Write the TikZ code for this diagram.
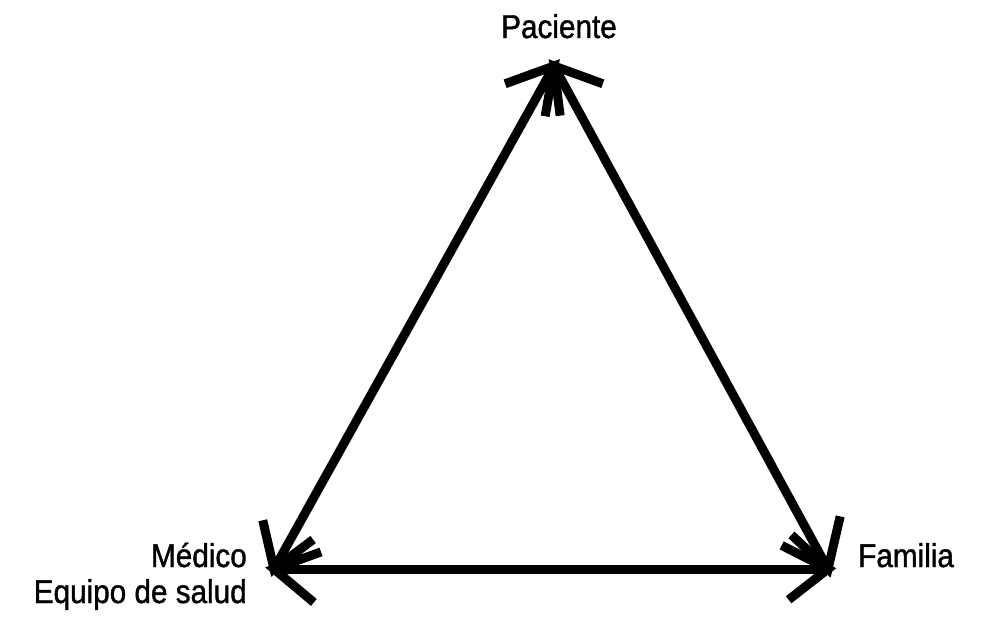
\documentclass[tikz,border=0pt]{standalone}
\usepackage{fontspec}
\setmainfont[FakeStretch=0.9,FakeBold=1.2]{Liberation Sans}
\begin{document}
\begin{tikzpicture}[x=1pt,y=1pt,
  edge/.style={line width=9pt,line cap=butt},
  barb/.style={line width=9pt,line cap=butt,line join=miter,miter limit=20},
  lbl/.style={inner sep=0pt,font=\fontsize{33}{37}\selectfont}]
\useasboundingbox (0,0) rectangle (995,633);
\coordinate (P) at (554,567);
\coordinate (M) at (274,64);
\coordinate (F) at (828,64);
\draw[edge] (M) -- (P);
\draw[edge] (P) -- (F);
\draw[edge] (M) -- (F);
% arrowheads at Paciente
\draw[barb] (P) ++(200:52) -- (P) -- ++(260:51);
\draw[barb] (P) ++(340:52) -- (P) -- ++(277:50);
% arrowheads at Medico
\draw[barb] (M) ++(103:50) -- (M) -- ++(37:49);
\draw[barb] (M) ++(20:50) -- (M) -- ++(-40:52);
% arrowheads at Familia
\draw[barb] (F) ++(77:54) -- (F) -- ++(137:50);
\draw[barb] (F) ++(153:52) -- (F) -- ++(218:50);
\node[lbl,anchor=base] (tp) at (559,595) {Paciente};
\node[lbl,anchor=base east] (tm1) at (247,66) {Médico};
\node[lbl,anchor=base east] (tm2) at (247,30) {Equipo de salud};
\node[lbl,anchor=base west] (tf) at (858,66) {Familia};
\end{tikzpicture}
\end{document}
